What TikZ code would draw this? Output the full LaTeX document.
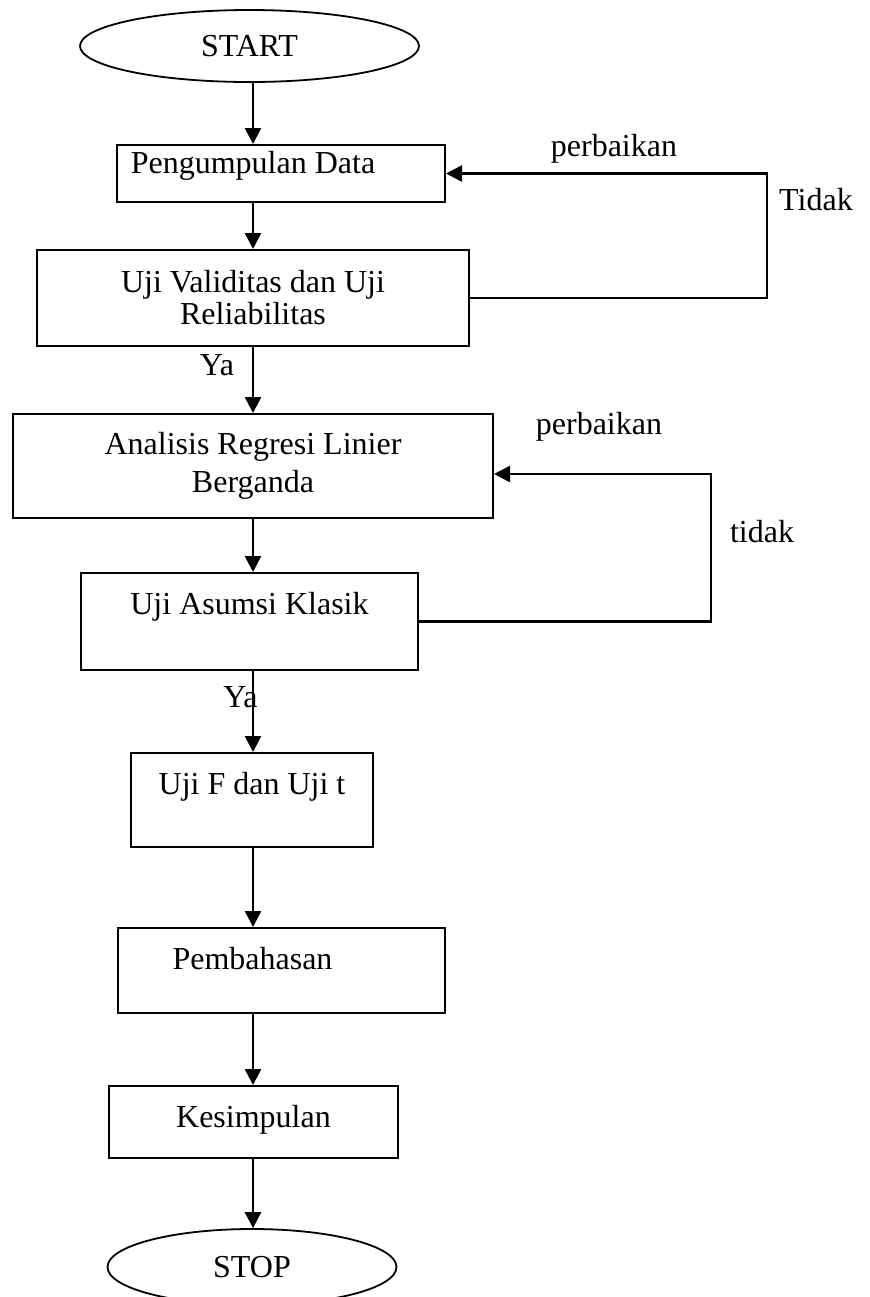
\documentclass[tikz,border=0pt]{standalone}
\usepackage{fontspec}
\setmainfont{Liberation Serif}
\usetikzlibrary{calc}
\usetikzlibrary{arrows.meta}
\usetikzlibrary{shapes.geometric}
\tikzset{
  box/.style={draw, line width=1pt, inner sep=0pt},
  lift/.style={text height=11pt, text depth=#1},
  term/.style={draw, ellipse, line width=0.9pt, inner sep=0pt},
  flow/.style={line width=1.3pt, -{Triangle[length=8pt,width=8pt]}},
  note/.style={inner sep=0pt}
}

\begin{document}
\begin{tikzpicture}[x=0.5pt,y=-0.5pt,font=\fontsize{16}{17.5}\selectfont]
\useasboundingbox (0,0) rectangle (870,1297);
\coordinate (spine) at (253,0);
\node[term, minimum width=169.5pt, minimum height=36pt] (start) at (249.5,46) {START};
\node[box, lift=11.4pt, minimum width=164pt, minimum height=28.5pt] (data) at (281,173.5) {Pengumpulan Data\kern28pt};
\node[box, align=center, minimum width=216pt, minimum height=48pt] (valid) at (253,298) {Uji Validitas dan Uji\\[-1.5pt]Reliabilitas};
\node[box, align=center, minimum width=240pt, minimum height=52pt] (regresi) at (253,466) {Analisis Regresi Linier\\[1.5pt]Berganda};
\node[box, lift=17.9pt, minimum width=168.5pt, minimum height=48.5pt] (klasik) at (249.5,621.5) {Uji Asumsi Klasik};
\node[box, lift=16.9pt, minimum width=121pt, minimum height=47pt] (ujift) at (252,800) {Uji F dan Uji t};
\node[box, lift=12.4pt, minimum width=163.5pt, minimum height=42.5pt] (bahas) at (281.5,970.5) {Pembahasan\kern29pt};
\node[box, lift=5.9pt, minimum width=144.5pt, minimum height=36pt] (simpul) at (253.5,1122) {Kesimpulan};
\node[term, minimum width=144.5pt, minimum height=38pt] (stop) at (252,1267) {STOP};

\foreach \a/\b in {start/data,data/valid,valid/regresi,regresi/klasik,klasik/ujift,ujift/bahas,bahas/simpul,simpul/stop} {
\draw[flow] (\a.south -| spine) -- (\b.north -| spine);
}

% loop back for perbaikan
\coordinate (back1) at (767,0);
\draw[flow] (valid.east) -| (back1 |- data.east) -- (data.east);
\coordinate (back2) at (711,0);
\coordinate (in2) at ($(regresi.east)+(0,8)$);
\draw[flow] (klasik.east) -| (back2 |- in2) -- (in2);

\node[note] (fix1) at (614,149) {perbaikan};
\node[note] (no1) at (816,200) {Tidak};
\node[note] (yes1) at (217,365) {Ya};
\node[note] (fix2) at (599,427) {perbaikan};
\node[note] (no2) at (762,532) {tidak};
\node[note] (yes2) at (240.5,697) {Ya};
\end{tikzpicture}
\end{document}
